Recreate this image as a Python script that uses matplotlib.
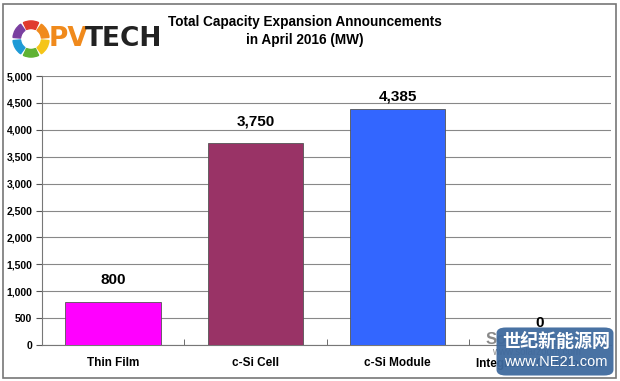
import matplotlib
matplotlib.use('Agg')
import matplotlib.pyplot as plt
from matplotlib.patches import Rectangle, FancyBboxPatch, Wedge

categories = ["Thin Film", "c-Si Cell", "c-Si Module", "Integrated Cell/Module"]
values = [800, 3750, 4385, 0]
colors = ["#FF00FF", "#993366", "#3366FF", "#FFFFFF"]
yticks = [0, 500, 1000, 1500, 2000, 2500, 3000, 3500, 4000, 4500, 5000]

plt.rcParams['font.family'] = ['Liberation Sans', 'DejaVu Sans']

W, H = 620, 381
fig = plt.figure(figsize=(W / 100, H / 100), dpi=100)
ax = fig.add_axes([42 / W, 36 / H, (611 - 42) / W, (345 - 76) / H])

x = range(len(categories))
ax.bar(x, values, width=0.67, color=colors, edgecolor="#555555", linewidth=0.6, zorder=3)
for xi, v in zip(x, values):
    ax.text(xi, min(v + 400, 4610), f"{v:,}", ha="center", va="center", fontsize=11,
            fontweight="bold", zorder=4)

ax.set_xlim(-0.5, 3.5)
ax.set_ylim(0, 5000)
ax.set_yticks(yticks)
ax.set_yticklabels([f"{t:,}" for t in yticks], fontsize=7.5, fontweight="bold")
ax.yaxis.grid(True, color="#888888", linewidth=0.8, zorder=0)
ax.set_xticks(list(x))
ax.set_xticklabels(categories, fontsize=8.5, fontweight="bold")
ax.set_xticks([0.5, 1.5, 2.5], minor=True)
ax.tick_params(axis="x", which="major", length=0, pad=9)
ax.tick_params(axis="x", which="minor", length=4, direction="in", color="#555555")
ax.tick_params(axis="y", length=4, color="#555555", pad=3)
for s in ["top", "right"]:
    ax.spines[s].set_visible(False)
for s in ["left", "bottom"]:
    ax.spines[s].set_color("#777777")
    ax.spines[s].set_linewidth(0.8)

# outer frame
fig.patches.append(Rectangle((3 / W, 3 / H), 613 / W, 374 / H, transform=fig.transFigure,
                             fill=False, edgecolor="#777777", linewidth=1.2))

# title
fig.text(305 / W, 1 - 22 / H, "Total Capacity Expansion Announcements", ha="center",
         va="center", fontsize=9.8, fontweight="bold")
fig.text(305 / W, 1 - 40 / H, "in April 2016 (MW)", ha="center", va="center",
         fontsize=9.8, fontweight="bold")

# logo
lax = fig.add_axes([12 / W, 1 - 58 / H, 38 / W, 38 / H])
lax.set_xlim(-1, 1)
lax.set_ylim(-1, 1)
lax.set_aspect("equal")
lax.axis("off")
ring = ["#E03A2E", "#7A3FA0", "#1E9AD6", "#5FB233", "#F5C518", "#F08A1C"]
for i, c in enumerate(ring):
    lax.add_patch(Wedge((0, 0), 0.95, 60 + i * 60 + 5, 60 + (i + 1) * 60 - 5, width=0.4, color=c))
fig.text(49 / W, 1 - 39 / H, "PV", ha="left", va="center", fontsize=19,
         fontweight="bold", color="#F08A1C", family="DejaVu Sans")
fig.text(85 / W, 1 - 39 / H, "TECH", ha="left", va="center", fontsize=19,
         fontweight="bold", color="#222222", family="DejaVu Sans")

# watermarks
fig.text(486 / W, 1 - 340 / H, "Solarzoom", ha="left", va="center", fontsize=12,
         fontweight="bold", color="#8A8A8A", zorder=4)
fig.text(492 / W, 1 - 352 / H, "www.solarzoom.com", ha="left", va="center", fontsize=7,
         color="#8A8A8A", zorder=4)
fig.patches.append(FancyBboxPatch((499 / W, 7 / H), 112 / W, 45 / H,
                                  boxstyle="round,pad=0.004,rounding_size=0.015",
                                  transform=fig.transFigure, facecolor="#3F6A9E",
                                  edgecolor="none", alpha=0.95, zorder=5))
fig.text(556 / W, 1 - 341 / H, "世纪新能源网", ha="center", va="center", fontsize=13,
         color="white", fontweight="bold", family=["Noto Sans CJK SC", "DejaVu Sans"], zorder=6)
fig.text(556 / W, 1 - 362 / H, "www.NE21.com", ha="center", va="center", fontsize=10.5,
         color="white", zorder=6)

fig.savefig("out.png", dpi=100)
